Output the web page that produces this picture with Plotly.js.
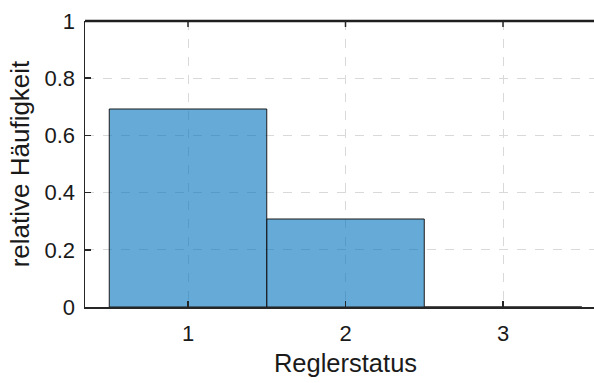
<!DOCTYPE html>
<html>
<head>
<meta charset="utf-8">
<script src="https://cdn.plot.ly/plotly-3.0.1.min.js"></script>
<style>html,body{margin:0;padding:0;background:#fff;overflow:hidden;}#wrap{width:594px;height:383px;overflow:hidden;}#chart{width:606px;height:383px;}</style>
</head>
<body>
<div id="wrap"><div id="chart"></div></div>
<script>
const categories = [1, 2, 3];
const relFreq = [0.6923, 0.3077, 0];
const xTickVals = [1, 2, 3];
const yTickVals = [0, 0.2, 0.4, 0.6, 0.8, 1];
const yTickText = ['0', '0.2', '0.4', '0.6', '0.8', '1'];

const FONT = 'Liberation Sans, Arial, sans-serif';
const AXCOL = '#262626';

const trace = {
  type: 'bar',
  x: categories,
  y: relFreq,
  width: 1,
  marker: { color: 'rgba(0,114,189,0.6)', line: { color: '#1a1a1a', width: 1 } },
  hoverinfo: 'none'
};

const axisCommon = {
  showline: true, linecolor: AXCOL, linewidth: 1.5,
  ticks: 'inside', ticklen: 6, tickwidth: 1.5, tickcolor: AXCOL,
  showgrid: true, gridcolor: '#d9d9d9', griddash: 'dash', gridwidth: 1,
  zeroline: false,
  automargin: false,
  tickfont: { family: FONT, size: 22, color: '#1a1a1a' }
};

// top box edge and its inward ticks (axis decoration)
const shapes = [{
  type: 'line', xref: 'paper', yref: 'paper', x0: 0, x1: 1, y0: 1, y1: 1,
  line: { color: '#1f1f1f', width: 2.5 }, layer: 'above'
}].concat(xTickVals.map(v => ({
  type: 'line', xref: 'x', yref: 'paper', ysizemode: 'pixel', yanchor: 1,
  x0: v, x1: v, y0: 0, y1: -6,
  line: { color: AXCOL, width: 1.5 }, layer: 'above'
})));

const layout = {
  width: 606, height: 383,
  margin: { l: 85, r: 0, t: 21, b: 76 },
  paper_bgcolor: '#fff', plot_bgcolor: '#fff',
  showlegend: false,
  shapes: shapes,
  xaxis: Object.assign({}, axisCommon, {
    range: [0.346, 3.654], tickvals: xTickVals, ticktext: xTickVals.map(String),
    ticklabelstandoff: 6,
    title: { text: 'Reglerstatus', standoff: 9, font: { family: FONT, size: 25.5, color: '#1a1a1a' } }
  }),
  yaxis: Object.assign({}, axisCommon, {
    range: [0, 1], tickvals: yTickVals, ticktext: yTickText,
    ticklabelstandoff: 4,
    title: { text: 'relative Häufigkeit', standoff: 7, font: { family: FONT, size: 26, color: '#1a1a1a' } }
  })
};

Plotly.newPlot('chart', [trace], layout, { staticPlot: true, displayModeBar: false });
</script>
</body>
</html>
